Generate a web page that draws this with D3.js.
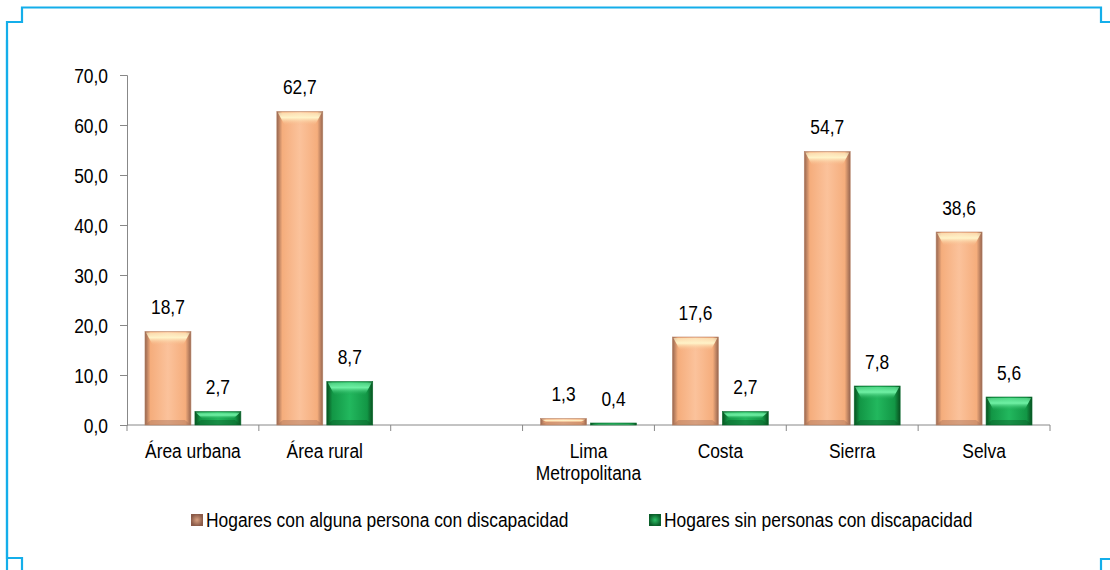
<!DOCTYPE html>
<html>
<head>
<meta charset="utf-8">
<script src="https://cdn.jsdelivr.net/npm/d3@7"></script>
<style>
  body { margin: 0; background: #fff; }
  svg text { font-family: "Liberation Sans", Arial, sans-serif; fill: #000; }
</style>
</head>
<body>
<div id="chart"></div>
<script>
// data
const categories = ['Área urbana', 'Área rural', '', 'Lima\nMetropolitana', 'Costa', 'Sierra', 'Selva'];
const withDisability = [18.7, 62.7, null, 1.3, 17.6, 54.7, 38.6];
const withoutDisability = [2.7, 8.7, null, 0.4, 2.7, 7.8, 5.6];
const yTicks = [0, 10, 20, 30, 40, 50, 60, 70];
const seriesNames = ['Hogares con alguna persona con discapacidad', 'Hogares sin personas con discapacidad'];

const width = 1110, height = 570;
const margin = { left: 127, right: 60, top: 75, bottom: 145 };
const narrow = 0.87; // the original font is a narrow face

const locale = d3.formatLocale({ decimal: ',', thousands: '.', grouping: [3], currency: ['', ''] });
const fmt = locale.format('.1f');

// squeeze a text horizontally round its own anchor
function squeeze(sel) {
  sel.each(function() {
    const t = d3.select(this);
    const tx = +t.attr('x') || 0, ty = +t.attr('y') || 0;
    t.attr('transform', (t.attr('transform') || '') + ' translate(' + tx + ',' + ty + ') scale(' + narrow + ',1) translate(' + (-tx) + ',' + (-ty) + ')');
  });
}

const svg = d3.select('#chart').append('svg')
  .attr('width', width)
  .attr('height', height);

const defs = svg.append('defs');

function edgeGradient(id, dark, mid, light) {
  const g = defs.append('linearGradient').attr('id', id)
    .attr('x1', '0%').attr('x2', '100%').attr('y1', '0%').attr('y2', '0%');
  g.append('stop').attr('offset', '0%').attr('stop-color', dark);
  g.append('stop').attr('offset', '12%').attr('stop-color', mid);
  g.append('stop').attr('offset', '50%').attr('stop-color', light);
  g.append('stop').attr('offset', '88%').attr('stop-color', mid);
  g.append('stop').attr('offset', '100%').attr('stop-color', dark);
}
edgeGradient('gradOrange', '#96654f', '#f5ad7c', '#fbc29b');
edgeGradient('gradGreen', '#08501f', '#129645', '#22b85e');

function topGradient(id, light, mid) {
  const g = defs.append('linearGradient').attr('id', id)
    .attr('x1', '0%').attr('x2', '0%').attr('y1', '0%').attr('y2', '100%');
  g.append('stop').attr('offset', '0%').attr('stop-color', light).attr('stop-opacity', 0.6);
  g.append('stop').attr('offset', '40%').attr('stop-color', light).attr('stop-opacity', 1);
  g.append('stop').attr('offset', '100%').attr('stop-color', mid).attr('stop-opacity', 0);
}
topGradient('topOrange', '#fff3c8', '#f7b585');
topGradient('topGreen', '#6ff0a4', '#16a04c');

function swatchGradient(id, dark, light) {
  const g = defs.append('radialGradient').attr('id', id);
  g.append('stop').attr('offset', '0%').attr('stop-color', light);
  g.append('stop').attr('offset', '100%').attr('stop-color', dark);
}
swatchGradient('swOrange', '#8a5a48', '#d8a080');
swatchGradient('swGreen', '#0b5e2a', '#2cc066');

const series = [
  { name: seriesNames[0], values: withDisability, fill: 'url(#gradOrange)', top: 'url(#topOrange)', bottom: '#a8735a', stroke: '#b8866a', swatch: 'url(#swOrange)' },
  { name: seriesNames[1], values: withoutDisability, fill: 'url(#gradGreen)', top: 'url(#topGreen)', bottom: '#0a5a29', stroke: '#0e6f33', swatch: 'url(#swGreen)' }
];

// scales
const x = d3.scaleBand()
  .domain(categories)
  .range([margin.left, width - margin.right])
  .paddingInner(0)
  .paddingOuter(0);

const xInner = d3.scaleBand()
  .domain([0, 1])
  .range([0, x.bandwidth()])
  .paddingInner(0.08)
  .paddingOuter(0.36);

const y = d3.scaleLinear()
  .domain([0, 70])
  .range([height - margin.bottom, margin.top]);

// frame
const frame = svg.append('g')
  .attr('fill', 'none')
  .attr('stroke', '#14aeea')
  .attr('stroke-width', 2.2);
frame.append('path').attr('d', 'M7,570 L7,22 L22,22 L22,7.5 L1101,7.5 L1101,22 L1110,22');
frame.append('path').attr('d', 'M7,40 L7,558 L22,558 L22,570');
frame.append('path').attr('d', 'M1101,570 L1101,559 L1110,559');

// y axis
const yAxis = svg.append('g')
  .attr('transform', 'translate(' + margin.left + ',0)')
  .call(d3.axisLeft(y).tickValues(yTicks).tickFormat(fmt).tickSize(7).tickPadding(12));
yAxis.select('.domain').attr('stroke', '#888');
yAxis.selectAll('.tick line').attr('stroke', '#888');
yAxis.selectAll('.tick text').attr('font-size', '20px').attr('fill', '#000').attr('dy', '0.36em').call(squeeze);

// x axis line + boundary ticks
const xAxisG = svg.append('g');
xAxisG.append('line')
  .attr('x1', x.range()[0]).attr('x2', x.range()[1])
  .attr('y1', y(0)).attr('y2', y(0))
  .attr('stroke', '#888');
const boundaries = categories.map(c => x(c)).concat([x.range()[1]]);
xAxisG.selectAll('line.bt').data(boundaries).enter().append('line')
  .attr('class', 'bt')
  .attr('x1', d => d).attr('x2', d => d)
  .attr('y1', y(0)).attr('y2', y(0) + 6)
  .attr('stroke', '#888');

// category labels
const catLabels = svg.append('g').selectAll('text')
  .data(categories.filter(c => c !== ''))
  .enter().append('text')
  .attr('x', d => x(d) + x.bandwidth() / 2)
  .attr('y', y(0) + 33)
  .attr('text-anchor', 'middle')
  .attr('font-size', '20px');
catLabels.each(function(d) {
  const lines = d.split('\n');
  d3.select(this).selectAll('tspan').data(lines).enter().append('tspan')
    .attr('x', x(d) + x.bandwidth() / 2)
    .attr('dy', (l, i) => i === 0 ? 0 : 22)
    .text(l => l);
});
catLabels.call(squeeze);

// bars
series.forEach((s, si) => {
  const data = categories.map((c, i) => ({ cat: c, value: s.values[i] })).filter(d => d.value !== null);
  const g = svg.append('g');
  const bw = xInner.bandwidth();

  const bars = g.selectAll('g.bar').data(data).enter().append('g').attr('class', 'bar');

  bars.append('rect')
    .attr('x', d => x(d.cat) + xInner(si))
    .attr('y', d => y(d.value))
    .attr('width', bw)
    .attr('height', d => y(0) - y(d.value))
    .attr('fill', s.fill)
    .attr('stroke', s.stroke)
    .attr('stroke-width', 0.6);

  // top bevel
  bars.append('path')
    .attr('d', d => {
      const x0 = x(d.cat) + xInner(si), y0 = y(d.value) + 1, h = y(0) - y(d.value);
      const b = Math.min(13, h / 2);
      return 'M' + (x0 + 1) + ',' + y0 + 'L' + (x0 + bw - 1) + ',' + y0 + 'L' + (x0 + bw - 8) + ',' + (y0 + b) + 'L' + (x0 + 8) + ',' + (y0 + b) + 'Z';
    })
    .attr('fill', s.top);

  // bottom bevel
  bars.append('path')
    .attr('d', d => {
      const x0 = x(d.cat) + xInner(si), y1 = y(0), h = y(0) - y(d.value);
      const b = Math.min(5, h / 2);
      return 'M' + x0 + ',' + y1 + 'L' + (x0 + bw) + ',' + y1 + 'L' + (x0 + bw - 6) + ',' + (y1 - b) + 'L' + (x0 + 6) + ',' + (y1 - b) + 'Z';
    })
    .attr('fill', s.bottom)
    .attr('opacity', 0.45);

  // value labels
  g.selectAll('text.val').data(data).enter().append('text')
    .attr('class', 'val')
    .attr('x', d => x(d.cat) + xInner(si) + bw / 2)
    .attr('y', d => y(d.value) - 17)
    .attr('text-anchor', 'middle')
    .attr('font-size', '20px')
    .text(d => fmt(d.value))
    .call(squeeze);
});

// legend
const legendX = [191, 649];
const legend = svg.append('g');
series.forEach((s, i) => {
  legend.append('rect')
    .attr('x', legendX[i]).attr('y', 514)
    .attr('width', 12).attr('height', 12)
    .attr('fill', s.swatch);
  legend.append('text')
    .attr('x', legendX[i] + 15).attr('y', 527)
    .attr('font-size', '20px')
    .text(s.name)
    .call(squeeze);
});
</script>
</body>
</html>
